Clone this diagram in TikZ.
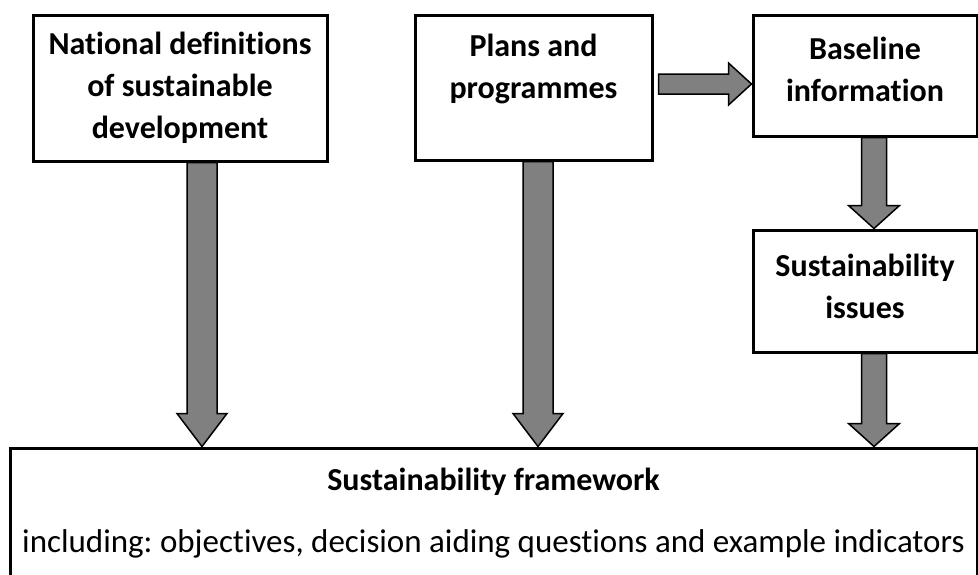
\documentclass[tikz,border=0pt]{standalone}
\usepackage{fontspec}
\setmainfont{Carlito}[Ligatures=NoCommon]
\usetikzlibrary{calc,
	positioning}
\frenchspacing

\tikzset{
	box/.style={draw, line width=3pt, fill=white, inner sep=0pt, align=center,
		font=\bfseries\fontsize{32}{42}\selectfont},
	blockarrow/.style={draw=black, line width=1.5pt, fill=gray, line join=miter},
}

% down block arrow: from, to, x, half shaft, half head, head length
\newcommand{\downblock}[6]{%
	\filldraw[blockarrow] let \p1=(#1.south), \p2=(#2.north) in
		({(#3-#4)*1pt},\y1) -- ({(#3+#4)*1pt},\y1) -- ({(#3+#4)*1pt},{\y2+#6pt})
		-- ({(#3+#5)*1pt},{\y2+#6pt}) -- ({#3*1pt},\y2) -- ({(#3-#5)*1pt},{\y2+#6pt})
		-- ({(#3-#4)*1pt},{\y2+#6pt}) -- cycle;}
% right block arrow: from, to, y, half shaft, half head, head length
\newcommand{\rightblock}[6]{%
	\filldraw[blockarrow] let \p1=(#1.east), \p2=(#2.west) in
		({\x1+5pt},{-(#3-#4)*1pt}) -- ({\x2-#6pt},{-(#3-#4)*1pt}) -- ({\x2-#6pt},{-(#3-#5)*1pt})
		-- (\x2,{-#3*1pt}) -- ({\x2-#6pt},{-(#3+#5)*1pt}) -- ({\x2-#6pt},{-(#3+#4)*1pt})
		-- ({\x1+5pt},{-(#3+#4)*1pt}) -- cycle;}

\begin{document}
\begin{tikzpicture}[x=1pt, y=-1pt]
	\useasboundingbox (0, 0) rectangle (978, 574);
	\clip (0, 0) rectangle (978, 574);
	% boxes
	\node[box, minimum width=294pt, minimum height=146pt] (national) at (180, 88)
		{National definitions\\of sustainable\\development};
	\node[box, minimum width=237pt, minimum height=145pt] (plans) at (533.5, 87.5)
		{Plans and\\programmes\\~};
	\node[box, minimum width=224pt, minimum height=121pt] (baseline) at (865, 75.5)
		{Baseline\\information\\[-30pt]~};
	\node[box, minimum width=224pt, minimum height=122pt] (issues) at (865, 291)
		{Sustainability\\issues\\[-32pt]~};
	\node[box, minimum width=967pt, minimum height=150pt] (framework) at (493.5, 523) {};
	\node[anchor=base, font=\bfseries\fontsize{32}{42}\selectfont] (fwtitle) at (493.5, 490)
		{Sustainability framework};
	\node[anchor=base, font=\fontsize{33}{42}\selectfont] (fwtext) at (493.5, 552)
		{including: objectives, decision aiding questions and example indicators};
	% arrows
	\downblock{national}{framework}{202}{15}{25}{33}
	\downblock{plans}{framework}{538}{15}{25}{33}
	\downblock{baseline}{issues}{874}{12.5}{25.5}{23}
	\downblock{issues}{framework}{874}{12.5}{25.5}{23}
	\rightblock{plans}{baseline}{84}{10}{21}{23}
\end{tikzpicture}
\end{document}
